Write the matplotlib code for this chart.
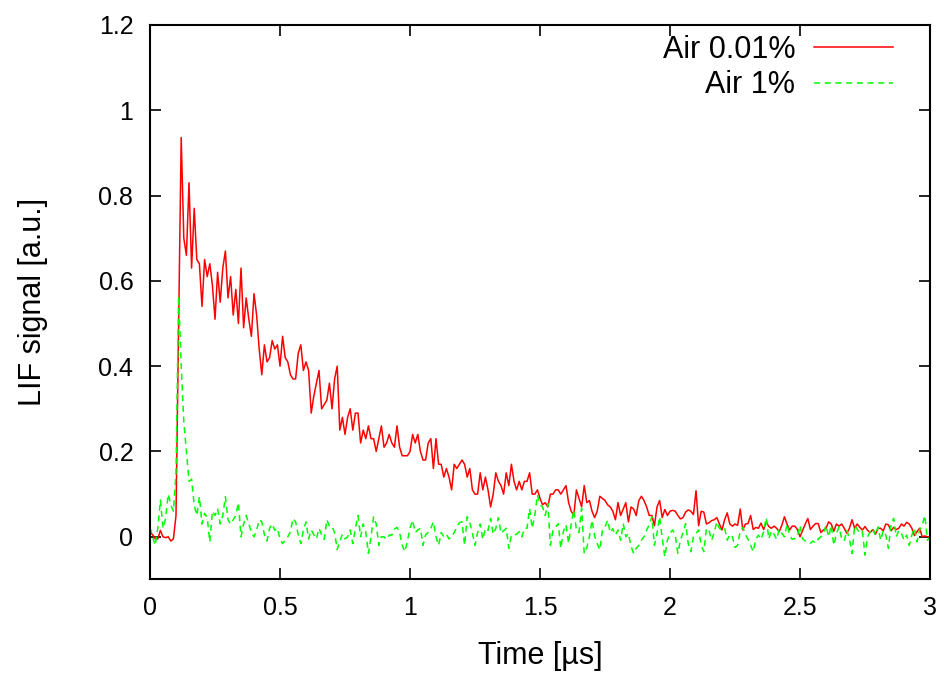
import numpy as np
import matplotlib
matplotlib.use("Agg")
import matplotlib.pyplot as plt

plt.rcParams['font.family'] = ['Liberation Sans', 'DejaVu Sans']

# time axis, 0 .. 3 us in 0.01 us steps
time_us = np.round(np.arange(301) * 0.01, 2)

air_001 = [
    0.01, 0.005, -0.005, -0.005, 0.015, 0.0, -0.002, 0.0, -0.01, -0.005,
    0.05, 0.50, 0.936, 0.70, 0.66, 0.83, 0.63, 0.77, 0.65, 0.64,
    0.54, 0.65, 0.61, 0.64, 0.59, 0.51, 0.62, 0.55, 0.63, 0.67,
    0.56, 0.61, 0.52, 0.58, 0.50, 0.63, 0.49, 0.56, 0.51, 0.47,
    0.57, 0.52, 0.44, 0.38, 0.45, 0.41, 0.42, 0.46, 0.44, 0.45,
    0.40, 0.47, 0.42, 0.41, 0.38, 0.37, 0.37, 0.43, 0.45, 0.39,
    0.41, 0.39, 0.29, 0.33, 0.36, 0.39, 0.30, 0.31, 0.32, 0.36,
    0.30, 0.37, 0.40, 0.25, 0.28, 0.24, 0.28, 0.30, 0.25, 0.29,
    0.29, 0.22, 0.25, 0.23, 0.26, 0.23, 0.23, 0.20, 0.23, 0.26,
    0.21, 0.22, 0.24, 0.22, 0.21, 0.26, 0.21, 0.19, 0.19, 0.19,
    0.20, 0.24, 0.22, 0.24, 0.20, 0.18, 0.18, 0.22, 0.23, 0.16,
    0.23, 0.17, 0.17, 0.14, 0.16, 0.14, 0.11, 0.17, 0.16, 0.17,
    0.18, 0.17, 0.14, 0.16, 0.11, 0.10, 0.10, 0.15, 0.11, 0.14,
    0.11, 0.07, 0.10, 0.15, 0.13, 0.12, 0.10, 0.15, 0.12, 0.17,
    0.13, 0.11, 0.13, 0.11, 0.13, 0.13, 0.15, 0.10, 0.10, 0.11,
    0.09, 0.075, 0.08, 0.07, 0.10, 0.10, 0.11, 0.11, 0.10, 0.11,
    0.12, 0.08, 0.06, 0.05, 0.11, 0.09, 0.07, 0.12, 0.08, 0.085,
    0.06, 0.045, 0.06, 0.095, 0.09, 0.085, 0.075, 0.07, 0.06, 0.04,
    0.08, 0.05, 0.065, 0.08, 0.035, 0.07, 0.065, 0.05, 0.085, 0.095,
    0.085, 0.07, 0.05, 0.05, 0.026, 0.07, 0.085, 0.045, 0.064, 0.05,
    0.06, 0.062, 0.06, 0.05, 0.042, 0.045, 0.058, 0.063, 0.06, 0.052,
    0.108, 0.026, 0.06, 0.058, 0.03, 0.033, 0.038, 0.04, 0.045, 0.03,
    0.016, 0.04, 0.056, 0.03, 0.025, 0.03, 0.027, 0.065, 0.016, 0.03,
    0.031, 0.05, 0.017, 0.022, 0.02, 0.032, 0.017, 0.035, 0.024, 0.02,
    0.025, 0.02, 0.012, 0.027, 0.047, 0.03, 0.016, 0.025, 0.025, 0.017,
    0.0, 0.015, 0.03, 0.043, 0.017, 0.025, 0.031, 0.031, 0.01, 0.016,
    0.02, 0.035, 0.03, 0.013, 0.03, 0.025, 0.03, 0.02, 0.008, 0.02,
    0.04, 0.02, 0.03, 0.022, 0.016, 0.024, 0.015, 0.01, 0.017, 0.006,
    0.02, 0.02, 0.014, 0.03, 0.028, 0.014, 0.022, 0.017, 0.02, 0.03,
    0.025, 0.034, 0.03, 0.02, 0.003, 0.012, 0.02, 0.0, 0.002, 0.0,
    0.0,
]

air_1 = [
    0.022, 0.0, -0.02, 0.02, 0.086, 0.02, 0.043, 0.10, 0.075, 0.06,
    0.15, 0.565, 0.40, 0.27, 0.20, 0.13, 0.135, 0.075, 0.05, 0.094,
    0.03, 0.055, 0.045, -0.012, 0.06, 0.05, 0.066, 0.03, 0.05, 0.094,
    0.04, 0.03, 0.04, 0.05, 0.08, 0.0, 0.03, 0.05, 0.03, 0.01,
    0.0, 0.015, 0.04, 0.035, 0.005, -0.01, 0.02, 0.03, 0.015, 0.02,
    -0.005, -0.016, -0.008, 0.0, 0.012, 0.043, 0.035, 0.005, -0.016, 0.016,
    0.035, -0.005, 0.016, 0.005, -0.005, 0.02, 0.005, -0.006, 0.04, 0.025,
    0.025, 0.01, -0.03, -0.01, 0.006, -0.005, 0.0, 0.016, -0.016, 0.02,
    0.05, 0.0, 0.03, 0.01, -0.039, 0.0, 0.047, 0.03, -0.02, 0.0,
    0.0, -0.006, 0.004, 0.004, 0.018, 0.022, 0.01, -0.02, -0.035, -0.01,
    0.02, 0.039, 0.01, 0.016, 0.02, -0.02, 0.005, 0.01, 0.02, 0.035,
    0.0, -0.02, 0.01, 0.0, 0.006, -0.005, 0.0, 0.01, 0.023, 0.033,
    0.035, -0.02, 0.047, 0.033, 0.008, -0.02, 0.01, 0.03, -0.006, 0.02,
    0.015, 0.043, 0.006, 0.02, 0.045, 0.008, 0.014, 0.02, -0.027, 0.004,
    0.004, 0.006, 0.012, 0.0, 0.02, 0.02, 0.066, 0.02, 0.05, 0.098,
    0.075, 0.07, 0.05, 0.078, -0.02, 0.016, 0.023, 0.031, -0.027, 0.013,
    0.028, -0.015, 0.03, 0.063, 0.016, 0.01, 0.067, -0.039, -0.025, 0.0,
    0.039, 0.002, -0.016, -0.031, 0.015, 0.023, 0.039, 0.01, 0.019, 0.004,
    0.016, -0.008, 0.031, 0.0, 0.008, -0.022, -0.039, -0.027, -0.02, -0.008,
    0.0, 0.016, 0.028, 0.047, -0.02, 0.008, 0.047, -0.004, -0.047, -0.008,
    0.008, 0.016, 0.004, -0.039, -0.008, 0.01, 0.031, -0.016, -0.035, 0.0,
    0.008, 0.016, -0.02, -0.035, 0.02, 0.015, -0.008, 0.01, 0.035, 0.02,
    0.015, 0.02, -0.008, 0.006, 0.0, -0.025, -0.02, 0.014, 0.022, 0.005,
    -0.006, -0.02, -0.035, -0.006, 0.004, -0.006, 0.012, 0.045, -0.005, 0.014,
    0.006, -0.006, 0.018, 0.008, 0.0, 0.03, 0.004, -0.006, -0.004, 0.0,
    0.027, -0.005, -0.01, -0.012, -0.015, -0.01, -0.015, -0.005, 0.0, 0.008,
    0.027, 0.0, 0.027, -0.02, 0.008, 0.023, -0.004, -0.01, 0.015, -0.004,
    -0.039, 0.027, 0.018, 0.008, 0.012, -0.043, 0.0, 0.012, 0.02, 0.004,
    0.023, -0.008, 0.015, 0.004, -0.027, 0.03, 0.043, 0.0, 0.015, 0.008,
    -0.008, 0.004, -0.02, 0.004, 0.02, -0.012, 0.016, 0.027, 0.05, -0.008,
    0.0,
]

x_ticks = [0, 0.5, 1, 1.5, 2, 2.5, 3]
x_labels = ["0", "0.5", "1", "1.5", "2", "2.5", "3"]
y_ticks = [0, 0.2, 0.4, 0.6, 0.8, 1, 1.2]
y_labels = ["0", "0.2", "0.4", "0.6", "0.8", "1", "1.2"]

fig = plt.figure(figsize=(9.44, 6.73), dpi=100)
ax = fig.add_axes([0.1589, 0.139, 0.8263, 0.824])

ax.plot(time_us, air_001, color="#ff0000", lw=1.1, label="Air 0.01%")
ax.plot(time_us, air_1, color="#00ff00", lw=1.1, dashes=(4, 3), label="Air 1%")

ax.set_xlim(0, 3)
ax.set_ylim(-0.1, 1.2)
ax.set_xticks(x_ticks)
ax.set_xticklabels(x_labels)
ax.set_yticks(y_ticks)
ax.set_yticklabels(y_labels)
ax.tick_params(direction="in", length=8, width=1.2, top=True, right=True,
               labelsize=18, pad=12)
for s in ax.spines.values():
    s.set_linewidth(1.5)

ax.set_xlabel("Time [µs]", fontsize=22, labelpad=15)
ax.set_ylabel("LIF signal [a.u.]", fontsize=22, labelpad=36)

ax.legend(loc="upper right", frameon=False, markerfirst=False, fontsize=22,
          handlelength=2.6, handletextpad=0.6, labelspacing=0.18,
          borderpad=0, borderaxespad=0, bbox_to_anchor=(0.9526, 0.982))

fig.savefig("out.png", dpi=100)
